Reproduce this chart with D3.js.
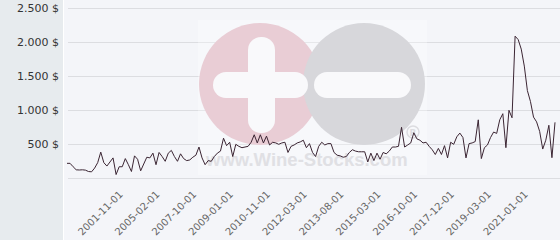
<!DOCTYPE html>
<html lang="en">
  <head>
    <meta charset="utf-8">
    <script src="https://d3js.org/d3.v7.min.js"></script>
    <title>Price history</title>
    <style>
      body { margin:0; }
      svg { display:block; font-family:"DejaVu Sans", sans-serif; }
    </style>
  </head>
  <body>
    <script>

      // data: price per point, ticks every 12th point

      var prices=[220,220,170,125,122,125,120,100,95,150,230,385,230,180,240,300,55,170,170,290,
        200,100,330,280,110,210,310,300,370,200,380,320,250,370,410,320,250,360,290,260,
        270,310,340,460,300,200,260,250,320,370,400,590,480,530,320,500,470,450,460,470,
        530,640,520,640,520,620,490,530,520,500,520,530,380,470,490,520,535,560,450,510,
        380,320,470,530,490,510,510,380,340,330,310,320,380,420,400,390,390,390,240,370,
        260,370,280,380,360,400,460,460,470,750,460,490,520,670,580,560,520,530,470,420,
        350,440,350,480,300,530,500,610,665,600,300,510,520,540,860,290,450,490,600,680,
        660,860,950,450,1000,890,2090,2040,1900,1650,1290,1130,900,830,690,430,560,780,303,823];

      var tickLabels=["2001-11-01","2005-02-01","2007-10-01","2009-01-01","2010-11-01","2012-03-01",
        "2013-08-01","2015-03-01","2016-10-01","2017-12-01","2019-03-01","2021-01-01"];
      var firstTick=20, tickStep=12;

      var yTicks=[500,1000,1500,2000,2500];

      var width=560, height=240;
      var svg=d3.select("body").append("svg").attr("width",width).attr("height",height);

      // backgrounds
      svg.append("rect").attr("width",width).attr("height",height).attr("fill","#f4f5f9");
      svg.append("rect").attr("width",63).attr("height",height).attr("fill","#e7ebee");
      svg.append("line").attr("x1",63.5).attr("x2",63.5).attr("y1",0).attr("y2",height)
        .attr("stroke","#ffffff");

      var x=d3.scaleLinear().domain([0,prices.length-1]).range([67,555]);
      var y=d3.scaleLinear().domain([0,2500]).range([178.3,8.3]);

      var loc=d3.formatLocale({decimal:",",thousands:".",grouping:[3],currency:["","$"]});
      var fmt=loc.format(",");

      // grid
      svg.append("g").selectAll("line").data([0].concat(yTicks)).enter().append("line")
        .attr("x1",68).attr("x2",width)
        .attr("y1",function(d){return Math.round(y(d))+0.5;})
        .attr("y2",function(d){return Math.round(y(d))+0.5;})
        .attr("stroke","#dcdde1");

      // watermark
      var wm=svg.append("g");
      wm.append("rect").attr("x",198).attr("y",20).attr("width",229).attr("height",155)
        .attr("fill","#ffffff").attr("opacity",0.3);
      wm.append("circle").attr("cx",260).attr("cy",84).attr("r",61).attr("fill","#e9cdd5");
      wm.append("circle").attr("cx",364).attr("cy",84).attr("r",61).attr("fill","#d7d7db");
      wm.append("rect").attr("x",213).attr("y",72).attr("width",95).attr("height",26)
        .attr("rx",13).attr("fill","#f9f9fb");
      wm.append("rect").attr("x",248).attr("y",37).attr("width",27).attr("height",96)
        .attr("rx",13).attr("fill","#f9f9fb");
      wm.append("rect").attr("x",314).attr("y",72).attr("width",97).attr("height",26)
        .attr("rx",13).attr("fill","#f9f9fb");
      wm.append("text").attr("x",206).attr("y",166).text("www.Wine-Stocks.com")
        .attr("font-family","Liberation Sans, sans-serif").attr("font-weight","bold")
        .attr("font-size",18.5).attr("fill","#e0e0e4");
      wm.append("circle").attr("cx",413).attr("cy",132).attr("r",6)
        .attr("fill","none").attr("stroke","#dcdce0").attr("stroke-width",1.5);
      wm.append("text").attr("x",413).attr("y",136).attr("text-anchor","middle")
        .attr("font-size",9).attr("font-weight","bold").attr("fill","#dcdce0").text("R");

      // y labels
      svg.append("g").selectAll("text").data(yTicks).enter().append("text")
        .attr("x",59).attr("y",function(d){return y(d);}).attr("dy","0.35em")
        .attr("text-anchor","end").attr("font-size",11).attr("fill","#333")
        .text(function(d){return fmt(d)+" $";});

      // x labels
      svg.append("g").selectAll("text").data(tickLabels).enter().append("text")
        .attr("transform",function(d,i){
          return "translate("+(x(firstTick+i*tickStep)-5)+",195) rotate(-45)";})
        .attr("text-anchor","end").attr("font-size",10).attr("fill","#666")
        .text(function(d){return d;});

      // line
      var line=d3.line().x(function(d,i){return x(i);}).y(function(d){return y(d);});
      svg.append("path").datum(prices).attr("d",line).attr("fill","none")
        .attr("stroke","#3b2533").attr("stroke-width",1);

    </script>
  </body>
</html>
